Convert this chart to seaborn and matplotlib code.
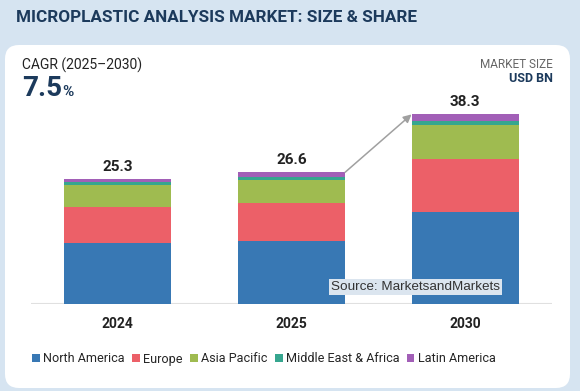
import numpy as np
import matplotlib
matplotlib.use("Agg")
import matplotlib.pyplot as plt
from matplotlib.patches import FancyBboxPatch
import seaborn as sns

years = ["2024", "2025", "2030"]
totals = [25.3, 26.6, 38.3]
north_america = [12.4, 12.7, 18.5]
europe = [7.2, 7.7, 10.7]
asia_pacific = [4.5, 4.6, 7.0]
middle_east_africa = [0.55, 0.7, 0.8]
latin_america = [0.65, 0.9, 1.3]

regions = ["North America", "Europe", "Asia Pacific", "Middle East & Africa", "Latin America"]
series = [north_america, europe, asia_pacific, middle_east_africa, latin_america]
colors = ["#3878b4", "#ec6068", "#9fbb50", "#36a68f", "#a25fb7"]

sns.set_theme(style="white")
plt.rcParams["font.family"] = ["Roboto", "DejaVu Sans"]

W, H = 580, 391
fig = plt.figure(figsize=(W / 100, H / 100), dpi=100, facecolor="#d6e4f1")

def fx(px):
    return px / W

def fy(py):
    return 1 - py / H

# white card behind everything
card = FancyBboxPatch((0.05, 0.03), 5.65, 3.43, boxstyle="round,pad=0,rounding_size=0.14",
                      transform=fig.dpi_scale_trans, facecolor="white", edgecolor="none", zorder=-5)
fig.patches.append(card)

fig.text(fx(16), fy(17), "MICROPLASTIC ANALYSIS MARKET: SIZE & SHARE", fontsize=12.3,
         fontweight="bold", color="#1c3a5c", va="center", ha="left")
fig.text(fx(22), fy(65), "CAGR (2025\u20132030)", fontsize=10, color="#222222", va="center")
fig.text(fx(22), fy(89), "7.5", fontsize=20, fontweight="bold", color="#1c3a5c", va="center")
fig.text(fx(62), fy(92), "%", fontsize=11, fontweight="bold", color="#1c3a5c", va="center")
fig.text(fx(553), fy(64), "MARKET SIZE", fontsize=8.5, color="#666666", ha="right", va="center")
fig.text(fx(553), fy(79), "USD BN", fontsize=9, fontweight="bold", color="#1c3a5c", ha="right", va="center")

ax = fig.add_axes([fx(31), fy(304), fx(552) - fx(31), fy(100) - fy(304)])
ax.set_facecolor("none")

bottom = np.zeros(len(years))
for name, vals, c in zip(regions, series, colors):
    sns.barplot(x=years, y=vals, bottom=bottom.copy(), color=c, width=0.617,
                label=name, ax=ax, saturation=1, edgecolor="none", linewidth=0)
    bottom += np.array(vals)

ax.set_ylim(0, 41.2)
ax.set_xlim(-0.5, 2.5)
for i, tot in enumerate(totals):
    ax.text(i, tot + 1.0, f"{tot}", ha="center", va="bottom", fontsize=11,
            fontweight="bold", color="#222222")

w = 0.617 / 2
ax.annotate("", xy=(2 - w, totals[2]), xytext=(1 + w, totals[1]),
            arrowprops=dict(arrowstyle="-|>", color="#a0a0a0", lw=1.1, mutation_scale=12,
                            shrinkA=0, shrinkB=0))

ax.axhline(0, color="#e0e0e0", lw=1.5, zorder=0)
sns.despine(ax=ax, left=True, bottom=True)
ax.set_yticks([])
ax.set_xlabel("")
ax.tick_params(axis="x", length=0, pad=9)
for lab in ax.get_xticklabels():
    lab.set_fontweight("bold")
    lab.set_fontsize(10)
    lab.set_color("#222222")

fig.text(fx(331), fy(287), "Source: MarketsandMarkets", fontsize=9.7, color="#333333",
         family="Liberation Sans", va="center", ha="left",
         bbox=dict(boxstyle="square,pad=0.15", facecolor="#dbe5ef", edgecolor="none"))

handles, labels = ax.get_legend_handles_labels()
if ax.legend_:
    ax.legend_.remove()
fig.legend(handles, labels, loc="center", bbox_to_anchor=(fx(264), fy(359)), ncol=5,
           frameon=False, fontsize=9.1, handlelength=0.6, handleheight=0.6,
           handletextpad=0.25, columnspacing=0.6)

fig.savefig("out.png", dpi=100, facecolor=fig.get_facecolor())
